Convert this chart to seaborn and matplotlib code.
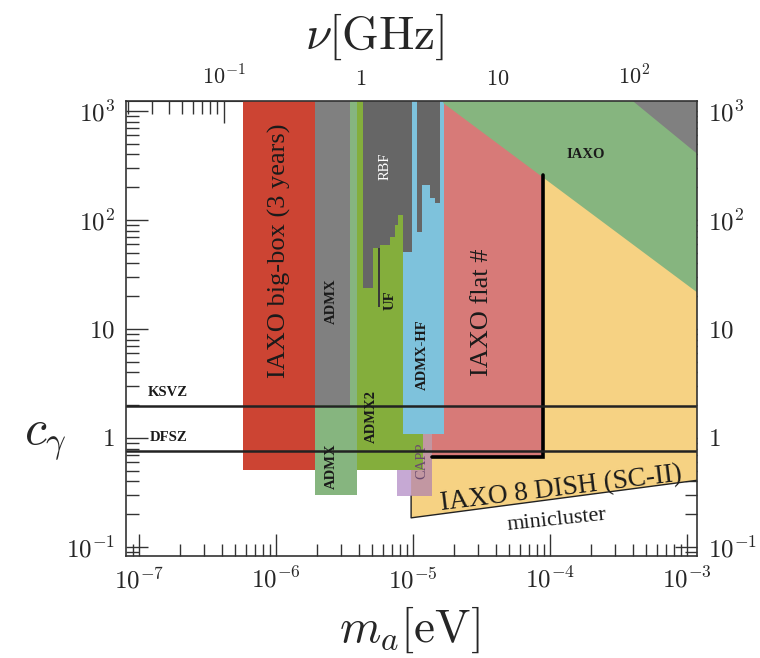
import numpy as np
import pandas as pd
import matplotlib
matplotlib.use('Agg')
import matplotlib.pyplot as plt
import seaborn as sns
from matplotlib.ticker import LogLocator, FixedLocator, FuncFormatter, NullFormatter

sns.set_style('ticks')
plt.rcParams['font.family'] = ['Liberation Serif', 'DejaVu Serif']
plt.rcParams['mathtext.fontset'] = 'cm'

# ---- data (m_a in eV, c_gamma) ----
m_lim = (8.04e-8, 1.18e-3)
c_lim = (0.0826, 1236)
c_top = 3000

m_ticks = [1e-7, 1e-6, 1e-5, 1e-4, 1e-3]
c_ticks = [0.1, 1, 10, 100, 1000]
nu_ticks = [0.1, 1, 10, 100]

bigbox_m = [5.74e-7, 1.93e-6]
bigbox_c = [0.51, c_top]
admx_m = [1.93e-6, 3.47e-6]
admx_c = [2.0, c_top]
admx_low_m = [1.93e-6, 3.90e-6]
admx_low_c = [0.30, c_top]
admx2_m = [3.90e-6, 1.18e-5]
admx2_c = [0.51, c_top]
admxhf_m = [8.45e-6, 1.68e-5]
admxhf_c = [1.09, c_top]
capp_m = [7.63e-6, 1.38e-5]
capp_c = [0.294, 2.0]
flat_m = [1.38e-5, 8.89e-5]
flat_c = [0.67, c_top]

# RBF staircase (left edges, lower limit)
rbf_m = [4.30e-6, 5.13e-6, 5.74e-6, 6.79e-6, 7.39e-6, 7.81e-6, 8.50e-6, 9.79e-6]
rbf_c = [23.6, 55, 59, 70, 90, 111, 51, 51]
rbf2_m = [1.065e-5, 1.158e-5, 1.33e-5, 1.45e-5, 1.57e-5]
rbf2_c = [78, 209, 158, 142, 142]
uf_m = [5.58e-6, 5.74e-6]
uf_c = [15.9, 55]

# IAXO helioscope band and the grey corner
iaxo_m = [1.66e-5, 1.2e-3, 1.2e-3, 1.66e-5]
iaxo_c = [1183, 21.4, c_top, c_top]
corner_m = [4.0e-4, 1.2e-3, 1.2e-3]
corner_c = [1240, 400, c_top]

# IAXO 8 DISH (SC-II)
dish_m = [9.67e-6, 1.2e-3, 1.2e-3, 9.67e-6]
dish_c = [0.185, 0.41, c_top, c_top]

# IAXO flat edge
flat_edge_m = [1.38e-5, 8.89e-5, 8.89e-5]
flat_edge_c = [0.67, 0.67, 259]

ksvz_c = 1.95
dfsz_c = 0.76

GHZ = 4.1357e-6  # eV per GHz

fig = plt.figure(figsize=(7.6, 6.58), dpi=100)
ax = fig.add_axes([0.166, 0.155, 0.751, 0.6915])
ax.set_xscale('log')
ax.set_yscale('log')


def box(mm, cc, color, z, alpha=1.0):
    ax.fill_between(mm, cc[0], cc[1], color=color, lw=0, zorder=z, alpha=alpha)


ax.fill(dish_m, dish_c, color='#F6D283', lw=0, zorder=1)
ax.plot([dish_m[0], dish_m[0], dish_m[1]], [capp_c[0], dish_c[0], dish_c[1]],
        color='#222222', lw=1.0, zorder=1.5)
box(capp_m, capp_c, '#A070B8', 2, alpha=0.6)
box(bigbox_m, bigbox_c, '#CC4433', 3)
box(admx_low_m, admx_low_c, '#86B57F', 3)
box(flat_m, flat_c, '#D77A78', 3)
box(admx_m, admx_c, '#808080', 4)
box(admx2_m, admx2_c, '#84AE3C', 4)
box(admxhf_m, admxhf_c, '#7EC2DC', 5)
ax.fill_between(rbf_m, rbf_c, c_top, step='post', color='#666666', lw=0, zorder=6)
ax.fill_between(rbf2_m, rbf2_c, c_top, step='post', color='#666666', lw=0, zorder=6)
box(uf_m, uf_c, '#3A3A3A', 7)
ax.fill(iaxo_m, iaxo_c, color='#86B57F', lw=0, zorder=8)
ax.fill(corner_m, corner_c, color='#808080', lw=0, zorder=9)
ax.plot(flat_edge_m, flat_edge_c, color='black', lw=2.6, zorder=10,
        solid_joinstyle='miter')

lines = pd.DataFrame({'m': [m_lim[0], m_lim[1], m_lim[0], m_lim[1]],
                      'c': [ksvz_c, ksvz_c, dfsz_c, dfsz_c],
                      'model': ['KSVZ', 'KSVZ', 'DFSZ', 'DFSZ']})
sns.lineplot(data=lines, x='m', y='c', units='model', estimator=None,
             color='#222222', lw=1.8, ax=ax, zorder=11)

ax.set_xlim(*m_lim)
ax.set_ylim(*c_lim)


def log_fmt(v, pos):
    e = int(round(np.log10(v)))
    if e == 0:
        return r'$1$'
    if e == 1:
        return r'$10$'
    return r'$10^{%d}$' % e


ax.xaxis.set_major_locator(FixedLocator(m_ticks))
ax.yaxis.set_major_locator(FixedLocator(c_ticks))
for axis in (ax.xaxis, ax.yaxis):
    axis.set_minor_locator(LogLocator(base=10, subs=np.arange(2, 10), numticks=20))
    axis.set_major_formatter(FuncFormatter(log_fmt))
    axis.set_minor_formatter(NullFormatter())

ax.tick_params(which='both', direction='in', top=False, right=True,
               labelright=True, color='#333333', width=1.0, labelsize=18, pad=8)
ax.tick_params(which='major', length=16)
ax.tick_params(which='minor', length=9)
for sp in ax.spines.values():
    sp.set_color('#333333')
    sp.set_linewidth(1.2)
    sp.set_zorder(20)

sec = ax.secondary_xaxis('top', functions=(lambda m: m / GHZ, lambda nu: nu * GHZ))
sec.xaxis.set_major_locator(FixedLocator(nu_ticks))
sec.xaxis.set_minor_locator(LogLocator(base=10, subs=np.arange(2, 10), numticks=20))
sec.xaxis.set_major_formatter(FuncFormatter(log_fmt))
sec.xaxis.set_minor_formatter(NullFormatter())
sec.tick_params(which='both', direction='in', color='#333333', width=1.0,
                labelsize=16, pad=8)
sec.tick_params(which='major', length=16)
sec.tick_params(which='minor', length=9)

# labels
txt = dict(ha='center', va='center', zorder=12)
ax.text(1.05e-6, 52, 'IAXO big-box (3 years)', rotation=90, fontsize=19, color='#1a1a1a', **txt)
ax.text(3.19e-5, 14.3, 'IAXO flat #', rotation=90, fontsize=19, color='#1a1a1a', **txt)
ax.text(2.52e-6, 18.1, 'ADMX', rotation=90, fontsize=10.5, fontweight='bold', color='#1a1a1a', **txt)
ax.text(2.52e-6, 0.553, 'ADMX', rotation=90, fontsize=10.5, fontweight='bold', color='#1a1a1a', **txt)
ax.text(6.25e-6, 313, 'RBF', rotation=90, fontsize=10.5, color='white', **txt)
ax.text(6.79e-6, 18.5, 'UF', rotation=90, fontsize=10.5, fontweight='bold', color='#1a1a1a', **txt)
ax.text(4.93e-6, 1.59, 'ADMX2', rotation=90, fontsize=10.5, fontweight='bold', color='#1a1a1a', **txt)
ax.text(1.16e-5, 5.77, 'ADMX-HF', rotation=90, fontsize=10.5, fontweight='bold', color='#1a1a1a', **txt)
ax.text(1.16e-5, 0.62, 'CAPP', rotation=90, fontsize=10.5, color='#6B4A6E',
        ha='center', va='center', zorder=4.5)
ax.text(1.83e-4, 403, 'IAXO', fontsize=10.5, fontweight='bold', color='#1a1a1a', **txt)
ax.text(1.63e-7, 2.64, 'KSVZ', fontsize=10.5, fontweight='bold', color='#1a1a1a', **txt)
ax.text(1.63e-7, 1.02, 'DFSZ', fontsize=10.5, fontweight='bold', color='#1a1a1a', **txt)
ax.text(1.2e-4, 0.34, 'IAXO 8 DISH (SC-II)', rotation=7, fontsize=19.5, color='#1a1a1a', **txt)
ax.text(1.12e-4, 0.175, 'minicluster', rotation=6, fontsize=16, color='#1a1a1a', **txt)

ax.text(0.497, -0.163, r'$m_a[\mathrm{eV}]$', transform=ax.transAxes, fontsize=34,
        ha='center', va='center')
ax.text(0.436, 1.141, r'$\nu[\mathrm{GHz}]$', transform=ax.transAxes, fontsize=34,
        ha='center', va='center')
ax.text(-0.142, 0.255, r'$c_\gamma$', transform=ax.transAxes, fontsize=36,
        ha='center', va='center')
ax.set_xlabel('')
ax.set_ylabel('')

fig.savefig('out.png', dpi=100)
